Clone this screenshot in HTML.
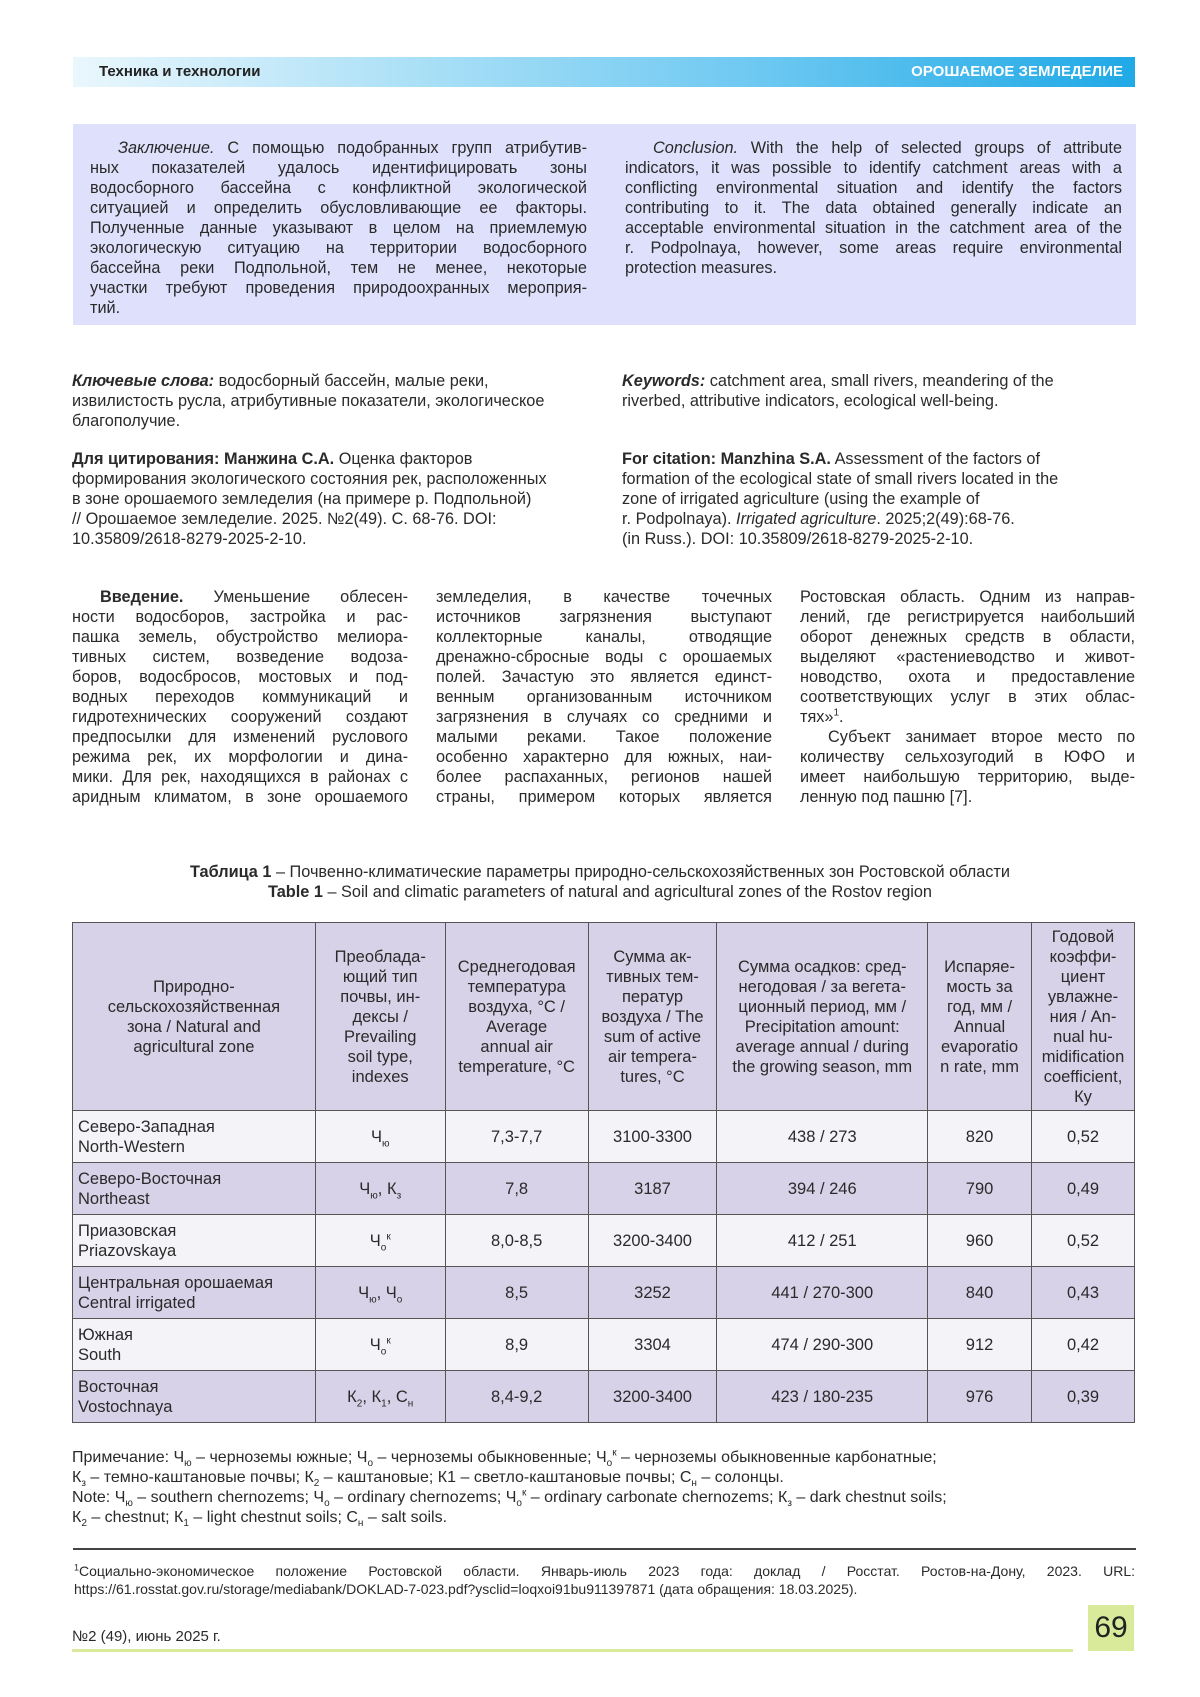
<!DOCTYPE html>
<html><head><meta charset="utf-8">
<style>
*{margin:0;padding:0;box-sizing:border-box}
body{width:1200px;height:1697px;background:#fff;position:relative;font-family:"Liberation Sans",Arial,sans-serif;color:#2a2a2a;overflow:hidden}
.a{position:absolute}
.band{left:73px;top:57px;width:1062px;height:30px;background:linear-gradient(90deg,#eaf7fd 0%,#a6def6 35%,#6cc8f1 65%,#1fa9e6 100%)}
.band .l{position:absolute;left:26px;top:6px;font-size:15px;font-weight:bold;color:#222}
.band .r{position:absolute;right:12px;top:6px;font-size:15px;font-weight:bold;color:#fff}
.box{left:73px;top:124px;width:1063px;height:201px;background:#dfe0fb}
.t{font-size:16.3px;line-height:20px}
.t div{white-space:nowrap;text-align:justify;text-align-last:justify;white-space:normal;height:20px;overflow:visible}
.t div.e{text-align-last:left}
.i{padding-left:28px}
table{position:absolute;left:72px;top:922px;width:1063px;border-collapse:collapse;font-size:16.5px;line-height:20px}
td{border:1.5px solid #555;text-align:center;vertical-align:middle}
tr.h td{height:188px;background:#d8d2e8}
tr.g td{background:#d8d2e8;height:52px}
tr.w td{background:#f4f3f8;height:52px}
td.z{text-align:left;padding-left:5px}
sub,sup{font-size:10px;line-height:0}
.n{font-size:16px;line-height:20px}
</style></head><body>
<div class="a band"><span class="l">Техника и технологии</span><span class="r">ОРОШАЕМОЕ ЗЕМЛЕДЕЛИЕ</span></div>
<div class="a box"></div>
<div class="a t" style="left:90px;top:138px;width:497px">
<div class="i"><i>Заключение.</i> С помощью подобранных групп атрибутив-</div>
<div>ных показателей удалось идентифицировать зоны</div>
<div>водосборного бассейна с конфликтной экологической</div>
<div>ситуацией и определить обусловливающие ее факторы.</div>
<div>Полученные данные указывают в целом на приемлемую</div>
<div>экологическую ситуацию на территории водосборного</div>
<div>бассейна реки Подпольной, тем не менее, некоторые</div>
<div>участки требуют проведения природоохранных мероприя-</div>
<div class="e">тий.</div></div>
<div class="a t" style="left:625px;top:138px;width:497px">
<div class="i"><i>Conclusion.</i> With the help of selected groups of attribute</div>
<div>indicators, it was possible to identify catchment areas with a</div>
<div>conflicting environmental situation and identify the factors</div>
<div>contributing to it. The data obtained generally indicate an</div>
<div>acceptable environmental situation in the catchment area of the</div>
<div>r. Podpolnaya, however, some areas require environmental</div>
<div class="e">protection measures.</div></div>

<div class="a t" style="left:72px;top:371px;width:540px"><b><i>Ключевые слова:</i></b> водосборный бассейн, малые реки,<br>извилистость русла, атрибутивные показатели, экологическое<br>благополучие.</div>
<div class="a t" style="left:622px;top:371px;width:520px"><b><i>Keywords:</i></b> catchment area, small rivers, meandering of the<br>riverbed, attributive indicators, ecological well-being.</div>
<div class="a t" style="left:72px;top:449px;width:560px"><b>Для цитирования: Манжина С.А.</b> Оценка факторов<br>формирования экологического состояния рек, расположенных<br>в зоне орошаемого земледелия (на примере р. Подпольной)<br>// Орошаемое земледелие. 2025. №2(49). С. 68-76. DOI:<br>10.35809/2618-8279-2025-2-10.</div>
<div class="a t" style="left:622px;top:449px;width:540px"><b>For citation: Manzhina S.A.</b> Assessment of the factors of<br>formation of the ecological state of small rivers located in the<br>zone of irrigated agriculture (using the example of<br>r. Podpolnaya). <i>Irrigated agriculture</i>. 2025;2(49):68-76.<br>(in Russ.). DOI: 10.35809/2618-8279-2025-2-10.</div>

<div class="a t" style="left:72px;top:587px;width:336px">
<div class="i"><b>Введение.</b> Уменьшение облесен-</div>
<div>ности водосборов, застройка и рас-</div>
<div>пашка земель, обустройство мелиора-</div>
<div>тивных систем, возведение водоза-</div>
<div>боров, водосбросов, мостовых и под-</div>
<div>водных переходов коммуникаций и</div>
<div>гидротехнических сооружений создают</div>
<div>предпосылки для изменений руслового</div>
<div>режима рек, их морфологии и дина-</div>
<div>мики. Для рек, находящихся в районах с</div>
<div>аридным климатом, в зоне орошаемого</div></div>
<div class="a t" style="left:436px;top:587px;width:336px">
<div>земледелия, в качестве точечных</div>
<div>источников загрязнения выступают</div>
<div>коллекторные каналы, отводящие</div>
<div>дренажно-сбросные воды с орошаемых</div>
<div>полей. Зачастую это является единст-</div>
<div>венным организованным источником</div>
<div>загрязнения в случаях со средними и</div>
<div>малыми реками. Такое положение</div>
<div>особенно характерно для южных, наи-</div>
<div>более распаханных, регионов нашей</div>
<div>страны, примером которых является</div></div>
<div class="a t" style="left:800px;top:587px;width:335px">
<div>Ростовская область. Одним из направ-</div>
<div>лений, где регистрируется наибольший</div>
<div>оборот денежных средств в области,</div>
<div>выделяют «растениеводство и живот-</div>
<div>новодство, охота и предоставление</div>
<div>соответствующих услуг в этих облас-</div>
<div class="e">тях»<sup>1</sup>.</div>
<div class="i">Субъект занимает второе место по</div>
<div>количеству сельхозугодий в ЮФО и</div>
<div>имеет наибольшую территорию, выде-</div>
<div class="e">ленную под пашню [7].</div></div>

<div class="a t" style="left:0;top:862px;width:1200px;text-align:center"><b>Таблица 1</b> – Почвенно-климатические параметры природно-сельскохозяйственных зон Ростовской области<br><b>Table 1</b> – Soil and climatic parameters of natural and agricultural zones of the Rostov region</div>

<table>
<colgroup><col style="width:243px"><col style="width:130px"><col style="width:143px"><col style="width:129px"><col style="width:211px"><col style="width:104px"><col style="width:103px"></colgroup>
<tr class="h"><td>Природно-<br>сельскохозяйственная<br>зона / Natural and<br>agricultural zone</td><td>Преоблада-<br>ющий тип<br>почвы, ин-<br>дексы /<br>Prevailing<br>soil type,<br>indexes</td><td>Среднегодовая<br>температура<br>воздуха, °С /<br>Average<br>annual air<br>temperature, °С</td><td>Сумма ак-<br>тивных тем-<br>ператур<br>воздуха / The<br>sum of active<br>air tempera-<br>tures, °С</td><td>Сумма осадков: сред-<br>негодовая / за вегета-<br>ционный период, мм /<br>Precipitation amount:<br>average annual / during<br>the growing season, mm</td><td>Испаряе-<br>мость за<br>год, мм /<br>Annual<br>evaporatio<br>n rate, mm</td><td>Годовой<br>коэффи-<br>циент<br>увлажне-<br>ния / An-<br>nual hu-<br>midification<br>coefficient,<br>Ку</td></tr>
<tr class="w"><td class="z">Северо-Западная<br>North-Western</td><td>Ч<sub>ю</sub></td><td>7,3-7,7</td><td>3100-3300</td><td>438 / 273</td><td>820</td><td>0,52</td></tr>
<tr class="g"><td class="z">Северо-Восточная<br>Northeast</td><td>Ч<sub>ю</sub>, К<sub>з</sub></td><td>7,8</td><td>3187</td><td>394 / 246</td><td>790</td><td>0,49</td></tr>
<tr class="w"><td class="z">Приазовская<br>Priazovskaya</td><td>Ч<sub>о</sub><sup>к</sup></td><td>8,0-8,5</td><td>3200-3400</td><td>412 / 251</td><td>960</td><td>0,52</td></tr>
<tr class="g"><td class="z">Центральная орошаемая<br>Central irrigated</td><td>Ч<sub>ю</sub>, Ч<sub>о</sub></td><td>8,5</td><td>3252</td><td>441 / 270-300</td><td>840</td><td>0,43</td></tr>
<tr class="w"><td class="z">Южная<br>South</td><td>Ч<sub>о</sub><sup>к</sup></td><td>8,9</td><td>3304</td><td>474 / 290-300</td><td>912</td><td>0,42</td></tr>
<tr class="g"><td class="z">Восточная<br>Vostochnaya</td><td>К<sub>2</sub>, К<sub>1</sub>, С<sub>н</sub></td><td>8,4-9,2</td><td>3200-3400</td><td>423 / 180-235</td><td>976</td><td>0,39</td></tr>
</table>

<div class="a n" style="left:72px;top:1448px;width:1100px">Примечание: Ч<sub>ю</sub> – черноземы южные; Ч<sub>о</sub> – черноземы обыкновенные; Ч<sub>о</sub><sup>к</sup> – черноземы обыкновенные карбонатные;<br>К<sub>з</sub> – темно-каштановые почвы; К<sub>2</sub> – каштановые; К1 – светло-каштановые почвы; С<sub>н</sub> – солонцы.<br>Note: Ч<sub>ю</sub> – southern chernozems; Ч<sub>о</sub> – ordinary chernozems; Ч<sub>о</sub><sup>к</sup> – ordinary carbonate chernozems; К<sub>з</sub> – dark chestnut soils;<br>К<sub>2</sub> – chestnut; К<sub>1</sub> – light chestnut soils; С<sub>н</sub> – salt soils.</div>

<div class="a" style="left:73px;top:1548px;width:1063px;height:2px;background:#444"></div>
<div class="a" style="left:74px;top:1562px;width:1061px;font-size:14px;line-height:18px;text-align:justify;text-align-last:left"><sup style="font-size:9px">1</sup>Социально-экономическое положение Ростовской области. Январь-июль 2023 года: доклад / Росстат. Ростов-на-Дону, 2023. URL: https://61.rosstat.gov.ru/storage/mediabank/DOKLAD-7-023.pdf?ysclid=loqxoi91bu911397871 (дата обращения: 18.03.2025).</div>

<div class="a" style="left:72px;top:1628px;font-size:15px">№2 (49), июнь 2025 г.</div>
<div class="a" style="left:72px;top:1649px;width:1001px;height:3px;background:#d9eb9a"></div>
<div class="a" style="left:1088px;top:1605px;width:46px;height:46px;background:#d9eb9a;font-size:30px;line-height:46px;text-align:center;color:#222">69</div>
</body></html>
